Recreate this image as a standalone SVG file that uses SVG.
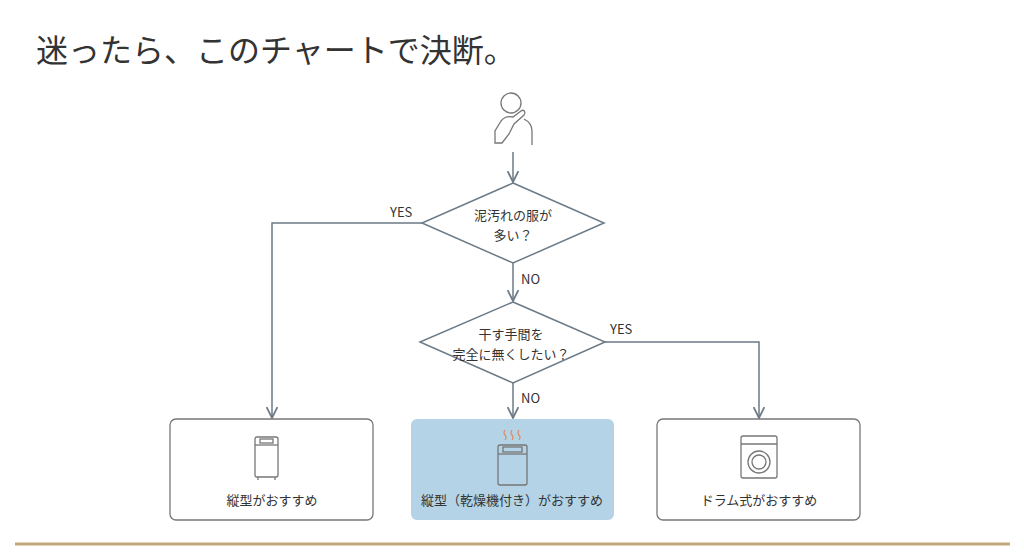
<svg xmlns="http://www.w3.org/2000/svg" width="1024" height="553" viewBox="0 0 1024 553">
<style>
.t{font-family:"Noto Sans CJK JP","Noto Sans",sans-serif;fill:#333}
.ln{fill:none;stroke:#6b7a86;stroke-width:1.5}
.ic{fill:none;stroke:#777;stroke-width:1.3}
.box{fill:#fff;stroke:#777;stroke-width:1.3}
</style>
<defs><marker id="a" viewBox="0 0 10 10" refX="9" refY="5" markerWidth="9" markerHeight="9" orient="auto"><path d="M1 1L9 5L1 9" fill="none" stroke="#6b7a86" stroke-width="1.3"/></marker></defs>
<rect width="1024" height="553" fill="#fff"/>
<text class="t" x="36" y="62" font-size="32" fill="#444">迷ったら、このチャートで決断。</text>
<line x1="15" y1="544" x2="1010" y2="544" stroke="#c2a77a" stroke-width="3"/>
<g id="person" class="ic" stroke="#6b7a86" stroke-width="1.5">
<circle cx="511" cy="103" r="10"/>
<path d="M495 143v-12l6-10c3-4 8-5 12-4l8-6c3-2 5 1 3 4l-10 9-5 10-7 9h-7zM524 119c4 2 8 5 8 12v14"/>
</g>
<g id="connectors" class="ln">
<line x1="513" y1="152" x2="513" y2="182" marker-end="url(#a)"/>
<line x1="513" y1="263" x2="513" y2="301" marker-end="url(#a)"/>
<polyline points="422,223 272,223 272,418" marker-end="url(#a)"/>
<polyline points="605,342 759,342 759,418" marker-end="url(#a)"/>
<line x1="513" y1="383" x2="513" y2="418" marker-end="url(#a)"/>
</g>
<g id="d1"><polygon class="ln" fill="#fff" points="513,183 604,223 513,263 422,223"/>
<text class="t" x="513" y="220" font-size="13" text-anchor="middle">泥汚れの服が</text>
<text class="t" x="513" y="240" font-size="13" text-anchor="middle">多い？</text></g>
<g id="d2"><polygon class="ln" fill="#fff" points="513,302 605,342 513,383 420,342"/>
<text class="t" x="511" y="339" font-size="13" text-anchor="middle">干す手間を</text>
<text class="t" x="511" y="359" font-size="13" text-anchor="middle">完全に無くしたい？</text></g>
<g id="labels" font-size="13">
<text class="t" x="390" y="217">YES</text>
<text class="t" x="521" y="284">NO</text>
<text class="t" x="610" y="334">YES</text>
<text class="t" x="521" y="403">NO</text>
</g>
<g id="b1"><rect class="box" x="170" y="419" width="203" height="101" rx="6"/>
<rect class="ic" x="255" y="437" width="23" height="40" rx="2"/><line class="ic" x1="255" y1="445" x2="278" y2="445"/><rect class="ic" x="260" y="439" width="13" height="4"/><path class="ic" d="M258 477v3M275 477v3"/>
<text class="t" x="272" y="505" font-size="13" text-anchor="middle">縦型がおすすめ</text></g>
<g id="b2"><rect x="411" y="419" width="203" height="101" rx="6" fill="#b4d3e6"/>
<path d="M505 430q-2 3 0 5t0 5M512 430q-2 3 0 5t0 5M519 430q-2 3 0 5t0 5" fill="none" stroke="#e08a5a" stroke-width="1.2"/>
<rect class="ic" x="498" y="445" width="29" height="40" rx="2"/><line class="ic" x1="498" y1="454" x2="527" y2="454"/><rect class="ic" x="503" y="447" width="19" height="5"/>
<text class="t" x="512" y="505" font-size="13" text-anchor="middle">縦型（乾燥機付き）がおすすめ</text></g>
<g id="b3"><rect class="box" x="657" y="419" width="203" height="101" rx="6"/>
<rect class="ic" x="741" y="436" width="36" height="42" rx="2"/><line class="ic" x1="741" y1="444" x2="777" y2="444"/><circle class="ic" cx="759" cy="462" r="11"/><circle class="ic" cx="759" cy="462" r="7"/>
<text class="t" x="759" y="505" font-size="13" text-anchor="middle">ドラム式がおすすめ</text></g>
</svg>
